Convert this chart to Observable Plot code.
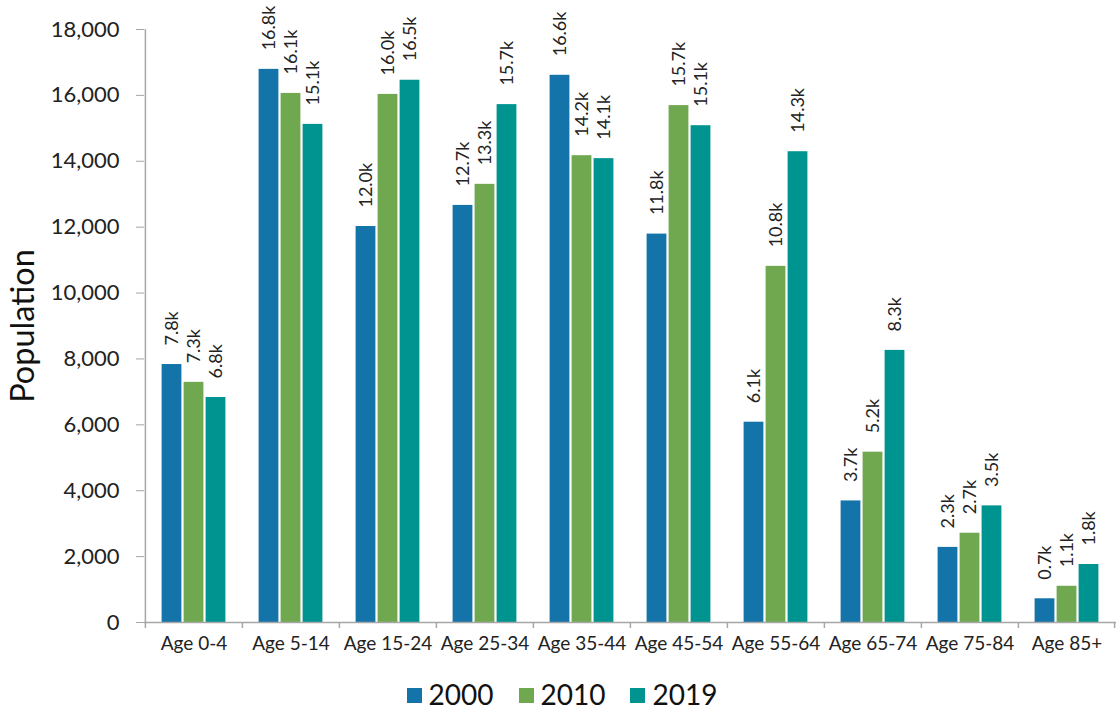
<!DOCTYPE html>
<html>
<head>
<meta charset="utf-8">
<script src="https://cdn.jsdelivr.net/npm/d3@7"></script>
<script src="https://cdn.jsdelivr.net/npm/@observablehq/plot@0.6"></script>
<style>
  body { margin: 0; background: #fff; font-family: "Century Gothic", Lato, sans-serif; }
  #legend { display: flex; justify-content: center; align-items: center; gap: 25px; height: 24px; margin-top: 26px; font-size: 28px; line-height: 24px; color: #111; padding-left: 8px; }
  #legend span.item { display: flex; align-items: center; gap: 7px; }
  #legend i { display: inline-block; width: 15px; height: 15px; margin-top: 3px; }
</style>
</head>
<body>
<div id="chart"></div>
<div id="legend"></div>
<script>
const ages = ["Age 0-4", "Age 5-14", "Age 15-24", "Age 25-34", "Age 35-44", "Age 45-54", "Age 55-64", "Age 65-74", "Age 75-84", "Age 85+"];
const years = ["2000", "2010", "2019"];
const pop2000 = [7830, 16790, 12020, 12660, 16610, 11790, 6080, 3690, 2280, 720];
const pop2010 = [7290, 16060, 16030, 13300, 14170, 15690, 10810, 5170, 2710, 1100];
const pop2019 = [6830, 15120, 16460, 15720, 14080, 15080, 14290, 8260, 3540, 1760];
const yTicks = [0, 2000, 4000, 6000, 8000, 10000, 12000, 14000, 16000, 18000];
const colors = ["#1473a8", "#70a84f", "#009490"];

const series = [pop2000, pop2010, pop2019];
const width = 1116, height = 656;
const marginLeft = 144, marginRight = 0, marginTop = 29, marginBottom = 34;
const step = (width - marginLeft - marginRight) / ages.length;
const barW = 20, gap = 2;
const groupStart = (step - (years.length * barW + (years.length - 1) * gap)) / 2;

const marks = [];
series.forEach((vals, i) => {
  const rows = ages.map((a, j) => ({age: a, value: vals[j], year: years[i]}));
  const left = groupStart + i * (barW + gap);
  const right = step - left - barW;
  marks.push(Plot.barY(rows, {x: "age", y: "value", fill: colors[i], insetLeft: left, insetRight: right}));
  marks.push(Plot.text(rows, {
    x: "age", y: "value", text: d => (d.value / 1000).toFixed(1) + "k",
    rotate: -90, textAnchor: "start", lineAnchor: "middle",
    dx: left + barW / 2 - step / 2, dy: -19, fontSize: 18, fill: "#222"
  }));
});

const chart = Plot.plot({
  width, height, marginLeft, marginRight, marginTop, marginBottom,
  style: {fontFamily: '"Century Gothic", Lato, sans-serif', background: "#fff", overflow: "visible"},
  x: {domain: ages, padding: 0},
  y: {domain: [0, 18000]},
  marks: [
    Plot.axisY({ticks: yTicks, tickFormat: d3.format(","), tickSize: 8, tickPadding: 17, fontSize: 22, stroke: "#a6a6a6", color: "#222", label: null}),
    Plot.axisX({tickSize: 0, tickPadding: 14, fontSize: 19, color: "#222", label: null}),
    ...marks,
    Plot.ruleY([0], {stroke: "#a6a6a6", strokeWidth: 1.5}),
    Plot.ruleX(ages, {x: d => d, y1: 0, y2: 0, insetBottom: -6, dx: -step / 2, stroke: "#a6a6a6", strokeWidth: 1.5}),
    Plot.ruleX(ages.slice(-1), {x: d => d, y1: 0, y2: 0, insetBottom: -6, dx: step / 2 - 1, stroke: "#a6a6a6", strokeWidth: 1.5}),
    Plot.ruleX([0], {x: () => ages[0], y1: 0, y2: 18000, dx: -step / 2, stroke: "#a6a6a6", strokeWidth: 1.5}),
    Plot.text(["Population"], {frameAnchor: "left", textAnchor: "middle", rotate: -90, dx: -121, dy: 0, fontSize: 32.5, fill: "#111"})
  ]
});
document.getElementById("chart").appendChild(chart);

const legend = document.getElementById("legend");
years.forEach((y, i) => {
  const s = document.createElement("span");
  s.className = "item";
  s.innerHTML = `<i style="background:${colors[i]}"></i>${y}`;
  legend.appendChild(s);
});
</script>
</body>
</html>
